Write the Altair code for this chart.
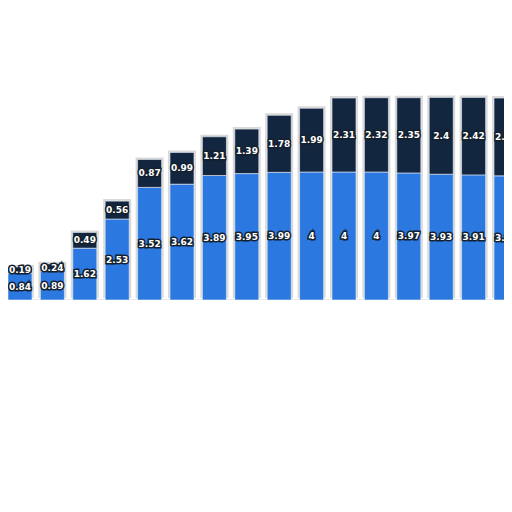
import altair as alt
import pandas as pd

idx = list(range(16))
bottom = [0.84, 0.89, 1.62, 2.53, 3.52, 3.62, 3.89, 3.95, 3.99, 4, 4, 4, 3.97, 3.93, 3.91, 3.88]
top = [0.19, 0.24, 0.49, 0.56, 0.87, 0.99, 1.21, 1.39, 1.78, 1.99, 2.31, 2.32, 2.35, 2.4, 2.42, 2.43]
series = ["Bottom", "Top"]
colors = ["#2b78e0", "#13263f"]

rows = []
for i, b, t in zip(idx, bottom, top):
    rows.append({"i": i, "series": series[0], "order": 0, "value": b})
    rows.append({"i": i, "series": series[1], "order": 1, "value": t})
df = pd.DataFrame(rows)

xscale = alt.Scale(domain=[-0.37, 14.938], nice=False, zero=False, padding=0)
yscale = alt.Scale(domain=[0, 9.125], nice=False, padding=0)

base = alt.Chart(df).transform_stack(
    stack="value", groupby=["i"], as_=["v0", "v1"], sort=[alt.SortField("order")]
).transform_calculate(mid="(datum.v0 + datum.v1) / 2")

xenc = alt.X("i:Q", scale=xscale,
             axis=alt.Axis(labels=False, ticks=False, title=None, grid=False,
                           domainColor="#a8a8a8", domainWidth=1.5))

shadow = base.transform_aggregate(total="max(v1)", groupby=["i"]).mark_bar(
    size=28, color="#cfcfcf", opacity=0.8, yOffset=-2
).encode(
    x=xenc,
    y=alt.Y("total:Q", scale=yscale, axis=None),
)

bars = base.mark_bar(size=24, stroke="#e8eef8", strokeWidth=0.6).encode(
    x=xenc,
    y=alt.Y("v0:Q", scale=yscale),
    y2="v1:Q",
    color=alt.Color("series:N", scale=alt.Scale(domain=series, range=colors), legend=None),
)

outline = base.mark_text(font="DejaVu Sans", fontWeight="bold", fontSize=9,
                         fill="#14202e", stroke="#14202e", strokeWidth=3,
                         baseline="middle").encode(
    x=xenc, y=alt.Y("mid:Q", scale=yscale), text="value:Q")
labels = base.mark_text(font="DejaVu Sans", fontWeight="bold", fontSize=9,
                        fill="white", baseline="middle").encode(
    x=xenc, y=alt.Y("mid:Q", scale=yscale), text="value:Q")

chart = alt.layer(shadow, bars, outline, labels).properties(
    width=496, height=292, padding=0, autosize="none"
).configure_view(stroke=None)

chart.save("out.html", embed_options={"renderer": "svg", "actions": False})
